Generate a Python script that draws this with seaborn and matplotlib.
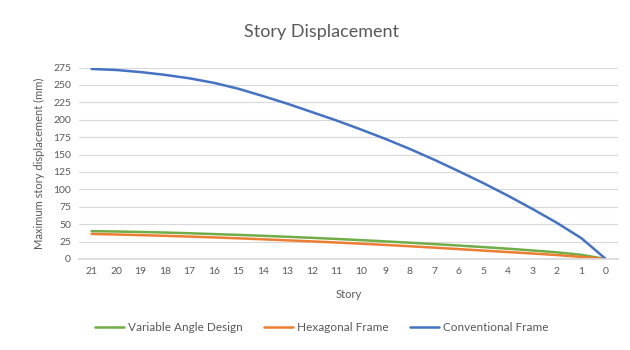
import numpy as np
import pandas as pd
import matplotlib
matplotlib.use("Agg")
import matplotlib.pyplot as plt
import seaborn as sns

stories = [21, 20, 19, 18, 17, 16, 15, 14, 13, 12, 11, 10, 9, 8, 7, 6, 5, 4, 3, 2, 1, 0]
variable_angle = [40, 39.5, 38.8, 38, 37, 35.8, 34.6, 33.3, 31.9, 30.4, 28.8, 27.1, 25.3, 23.4, 21.4, 19.3, 17.1, 14.8, 12.3, 9.6, 6, 0]
hexagonal = [36, 35.2, 34.3, 33.3, 32.2, 31, 29.7, 28.3, 26.8, 25.3, 23.7, 22, 20.2, 18.3, 16.3, 14.2, 12.1, 10, 7.9, 5.7, 3, 0]
conventional = [273, 271.5, 268.5, 264.5, 259.5, 253, 244.5, 234, 223, 211, 199, 186, 172.5, 158, 142.5, 126, 109, 91, 72, 52, 30, 0]
series_names = ["Variable Angle Design", "Hexagonal Frame", "Conventional Frame"]
colors = ["#70AD47", "#ED7D31", "#4472C4"]

df = pd.concat([
    pd.DataFrame({"Story": stories, "Displacement": vals, "Series": name})
    for name, vals in zip(series_names, [variable_angle, hexagonal, conventional])
], ignore_index=True)

sns.set_theme(style="white")
plt.rcParams["font.family"] = ["Lato", "DejaVu Sans"]

fig = plt.figure(figsize=(6.3, 3.5), dpi=100)
ax = fig.add_axes([0.126, 0.26, 0.855, 0.547])

sns.lineplot(data=df, x="Story", y="Displacement", hue="Series",
             hue_order=series_names, palette=colors, linewidth=1.8,
             sort=False, ax=ax, legend=True)

ax.set_xlim(21.5, -0.5)
ax.set_ylim(0, 275)
ax.set_xticks(stories)
ax.set_xticklabels([str(s) for s in stories])
ax.set_yticks(np.arange(0, 276, 25))
ax.yaxis.grid(True, color="#D9D9D9", linewidth=0.8)
ax.set_axisbelow(True)
for sp in ["top", "right", "left"]:
    ax.spines[sp].set_visible(False)
ax.spines["bottom"].set_color("#D9D9D9")
ax.tick_params(axis="both", labelsize=7.5, colors="#595959", length=0, pad=6)

ax.set_xlabel("Story", fontsize=8, color="#595959", labelpad=9)
ax.set_ylabel("Maximum story displacement (mm)", fontsize=8, color="#595959", labelpad=6)
fig.text(0.51, 0.91, "Story Displacement", ha="center", va="center",
         fontsize=13, color="#595959")

handles, labels = ax.get_legend_handles_labels()
ax.legend_.remove()
fig.legend(handles, labels, loc="center", bbox_to_anchor=(0.51, 0.065), ncol=3,
           frameon=False, fontsize=8.5, labelcolor="#595959",
           handlelength=2.5, columnspacing=1.8, handletextpad=0.3)

fig.savefig("out.png", dpi=100)
